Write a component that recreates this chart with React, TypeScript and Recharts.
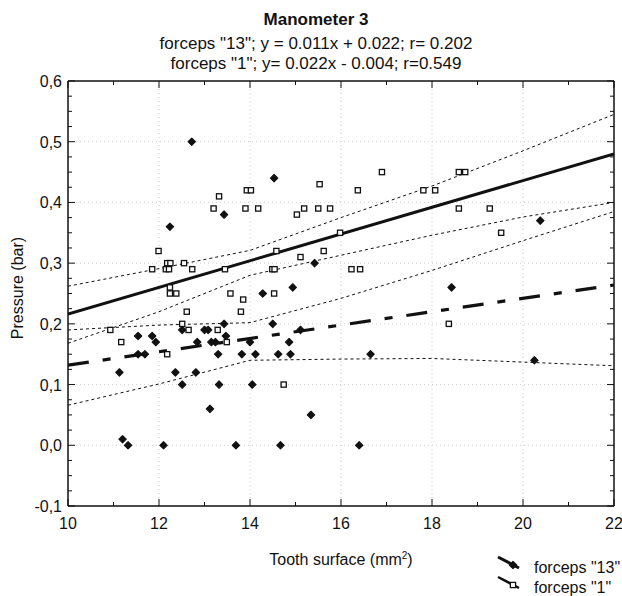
import {ScatterChart, Scatter, XAxis, YAxis, ReferenceLine} from 'recharts';

const FONT = '"Liberation Sans", Arial, sans-serif';
const INK = '#111';

// forceps "13" (filled markers)
const f13X = [12.72, 13.43, 12.24, 14.53, 15.42, 14.94, 20.38, 18.43, 13.43, 12.51, 13.0, 13.08, 11.54, 11.85, 13.47, 11.93, 12.84, 13.15, 13.24, 11.54, 11.69, 13.3, 13.82, 14.12, 11.13, 12.36, 12.81, 12.51, 13.32, 14.05, 13.12, 11.2, 11.32, 12.1, 13.69, 14.28, 14.5, 15.11, 14.0, 14.86, 14.62, 14.89, 16.65, 15.34, 14.67, 16.4, 20.25];
const f13Y = [0.5, 0.38, 0.36, 0.44, 0.3, 0.26, 0.37, 0.26, 0.2, 0.19, 0.19, 0.19, 0.18, 0.18, 0.18, 0.17, 0.17, 0.17, 0.17, 0.15, 0.15, 0.15, 0.15, 0.15, 0.12, 0.12, 0.12, 0.1, 0.1, 0.1, 0.06, 0.01, 0.0, 0.0, 0.0, 0.25, 0.2, 0.19, 0.17, 0.17, 0.15, 0.15, 0.15, 0.05, 0.0, 0.0, 0.14];

// forceps "1" (open squares)
const f1X = [13.93, 14.02, 13.32, 13.2, 13.9, 14.18, 11.99, 12.18, 12.25, 12.55, 11.85, 12.15, 12.22, 12.73, 13.45, 12.24, 12.24, 12.38, 13.57, 13.85, 12.61, 13.8, 12.51, 10.93, 12.65, 13.29, 11.17, 13.49, 12.18, 15.53, 16.9, 16.37, 17.81, 18.07, 15.03, 15.19, 15.5, 15.76, 15.98, 14.58, 15.11, 15.62, 14.49, 14.54, 16.23, 16.42, 18.59, 18.73, 18.59, 19.27, 19.52, 14.53, 14.74, 18.37];
const f1Y = [0.42, 0.42, 0.41, 0.39, 0.39, 0.39, 0.32, 0.3, 0.3, 0.3, 0.29, 0.29, 0.29, 0.29, 0.29, 0.26, 0.25, 0.25, 0.25, 0.24, 0.22, 0.22, 0.2, 0.19, 0.19, 0.19, 0.17, 0.17, 0.15, 0.43, 0.45, 0.42, 0.42, 0.42, 0.38, 0.39, 0.39, 0.39, 0.35, 0.32, 0.31, 0.32, 0.29, 0.29, 0.29, 0.29, 0.45, 0.45, 0.39, 0.39, 0.35, 0.25, 0.1, 0.2];

// regression lines
const fitX = [10, 22];
const fit13Y = [0.132, 0.264];
const fit1Y = [0.216, 0.48];

// confidence bands
const bandX = [10, 12, 14, 16, 18, 20, 22];
const band1Upper = [0.262, 0.291, 0.321, 0.375, 0.427, 0.485, 0.545];
const band1Lower = [0.168, 0.22, 0.28, 0.313, 0.346, 0.376, 0.4];
const band13Upper = [0.19, 0.198, 0.202, 0.242, 0.288, 0.337, 0.385];
const band13Lower = [0.066, 0.101, 0.14, 0.142, 0.143, 0.137, 0.131];

const xTicks = [10, 11, 12, 13, 14, 15, 16, 17, 18, 19, 20, 21, 22];
const yTicks = [-0.1, -0.075, -0.05, -0.025, 0, 0.025, 0.05, 0.075, 0.1, 0.125, 0.15, 0.175, 0.2, 0.225, 0.25, 0.275, 0.3, 0.325, 0.35, 0.375, 0.4, 0.425, 0.45, 0.475, 0.5, 0.525, 0.55, 0.575, 0.6];
const gridX = [12, 14, 16, 18, 20];
const gridY = [0, 0.1, 0.2, 0.3, 0.4, 0.5];

const pts = (xs: number[], ys: number[]) => xs.map((x, i) => ({x, y: ys[i]}));

const isMajorY = (v: number) => Math.abs(v * 10 - Math.round(v * 10)) < 1e-6;
const isMajorX = (v: number) => v % 2 === 0;

const BottomTick = ({x, y, payload}: any) => {
  const major = isMajorX(payload.value);
  return (
    <g>
      <line x1={x} x2={x} y1={y} y2={y - (major ? 7 : 4)} stroke={INK} />
      {major && (
        <text x={x} y={y + 23} textAnchor="middle" fontSize={16} fontFamily={FONT} fill={INK}>
          {payload.value}
        </text>
      )}
    </g>
  );
};

const TopTick = ({x, y, payload}: any) => {
  const major = isMajorX(payload.value);
  return <line x1={x} x2={x} y1={y} y2={y + (major ? 7 : 4)} stroke={INK} />;
};

const LeftTick = ({x, y, payload}: any) => {
  const major = isMajorY(payload.value);
  return (
    <g>
      <line x1={x} x2={x + (major ? 7 : 4)} y1={y} y2={y} stroke={INK} />
      {major && (
        <text x={x - 6} y={y + 6} textAnchor="end" fontSize={16} fontFamily={FONT} fill={INK}>
          {payload.value.toFixed(1).replace('.', ',')}
        </text>
      )}
    </g>
  );
};

const RightTick = ({x, y, payload}: any) => {
  const major = isMajorY(payload.value);
  return <line x1={x} x2={x - (major ? 7 : 4)} y1={y} y2={y} stroke={INK} />;
};

const Dot = ({cx, cy}: any) => (
  <polygon
    points={`${cx},${cy - 3.7} ${cx + 3.7},${cy} ${cx},${cy + 3.7} ${cx - 3.7},${cy}`}
    fill={INK}
    stroke={INK}
    strokeWidth={1.1}
    strokeLinejoin="round"
  />
);

const Box = ({cx, cy}: any) => (
  <rect x={cx - 2.6} y={cy - 2.6} width={5.2} height={5.2} fill="#fff" stroke={INK} strokeWidth={1.3} />
);

const NoDot = () => <g />;

const axisLine = {stroke: INK, strokeWidth: 1.5};
const bandLine = {stroke: INK, strokeWidth: 1, strokeDasharray: '3 3'};

export default function App() {
  return (
    <div
      style={{
        position: 'absolute',
        left: 0,
        top: 0,
        width: 622,
        height: 596,
        background: '#fff',
        fontFamily: FONT,
        color: INK,
      }}>
      <div style={{position: 'absolute', left: 16, width: 600, top: 10, textAlign: 'center', fontSize: 17, fontWeight: 'bold', lineHeight: '20px'}}>
        Manometer 3
      </div>
      <div style={{position: 'absolute', left: 16, width: 600, top: 34, textAlign: 'center', fontSize: 17, lineHeight: '20px'}}>
        forceps "13"; y = 0.011x + 0.022; r= 0.202
      </div>
      <div style={{position: 'absolute', left: 16, width: 600, top: 54, textAlign: 'center', fontSize: 17, lineHeight: '20px'}}>
        forceps "1"; y= 0.022x - 0.004; r=0.549
      </div>

      <ScatterChart width={622} height={596} margin={{top: 0, right: 0, bottom: 0, left: 0}}>
        <XAxis
          type="number"
          dataKey="x"
          domain={[10, 22]}
          ticks={xTicks}
          interval={0}
          height={90}
          tickSize={0}
          tickMargin={0}
          tickLine={false}
          axisLine={axisLine}
          tick={<BottomTick />}
          allowDataOverflow
        />
        <XAxis
          xAxisId="top"
          orientation="top"
          type="number"
          dataKey="x"
          domain={[10, 22]}
          ticks={xTicks}
          interval={0}
          height={81}
          tickSize={0}
          tickMargin={0}
          tickLine={false}
          axisLine={axisLine}
          tick={<TopTick />}
          allowDataOverflow
        />
        <YAxis
          type="number"
          dataKey="y"
          domain={[-0.1, 0.6]}
          ticks={yTicks}
          interval={0}
          width={68}
          tickSize={0}
          tickMargin={0}
          tickLine={false}
          axisLine={axisLine}
          tick={<LeftTick />}
          allowDataOverflow
        />
        <YAxis
          yAxisId="right"
          orientation="right"
          type="number"
          dataKey="y"
          domain={[-0.1, 0.6]}
          ticks={yTicks}
          interval={0}
          width={8}
          tickSize={0}
          tickMargin={0}
          tickLine={false}
          axisLine={axisLine}
          tick={<RightTick />}
          allowDataOverflow
        />

        {gridX.map((v) => (
          <ReferenceLine key={`gx${v}`} x={v} stroke="#cfcfcf" strokeDasharray="1 3" />
        ))}
        {gridY.map((v) => (
          <ReferenceLine key={`gy${v}`} y={v} stroke="#cfcfcf" strokeDasharray="1 3" />
        ))}

        <Scatter data={pts(bandX, band1Upper)} line={bandLine} lineType="joint" shape={NoDot} isAnimationActive={false} />
        <Scatter data={pts(bandX, band1Lower)} line={bandLine} lineType="joint" shape={NoDot} isAnimationActive={false} />
        <Scatter data={pts(bandX, band13Upper)} line={bandLine} lineType="joint" shape={NoDot} isAnimationActive={false} />
        <Scatter
          xAxisId="top"
          yAxisId="right"
          data={pts(bandX, band13Lower)}
          line={bandLine}
          lineType="joint"
          shape={NoDot}
          isAnimationActive={false}
        />

        <Scatter
          data={pts(fitX, fit13Y)}
          line={{stroke: INK, strokeWidth: 3.2, strokeDasharray: '21 14 8 14'}}
          lineType="joint"
          shape={NoDot}
          isAnimationActive={false}
        />
        <Scatter
          data={pts(fitX, fit1Y)}
          line={{stroke: INK, strokeWidth: 3}}
          lineType="joint"
          shape={NoDot}
          isAnimationActive={false}
        />

        <Scatter name='forceps "13"' data={pts(f13X, f13Y)} shape={Dot} isAnimationActive={false} />
        <Scatter name='forceps "1"' data={pts(f1X, f1Y)} shape={Box} isAnimationActive={false} />
      </ScatterChart>

      <div style={{position: 'absolute', left: 0, top: 547, width: 622, textAlign: 'center', paddingLeft: 60, boxSizing: 'border-box', fontSize: 16, lineHeight: '18px'}}>
        Tooth surface (mm<sup style={{fontSize: 10}}>2</sup>)
      </div>
      <div
        style={{
          position: 'absolute',
          left: 18,
          top: 288,
          fontSize: 16,
          lineHeight: '18px',
          whiteSpace: 'nowrap',
          transform: 'translate(-50%, -50%) rotate(-90deg)',
        }}>
        Pressure (bar)
      </div>

      <svg style={{position: 'absolute', left: 490, top: 550}} width={132} height={46}>
        <line x1={8} y1={7} x2={29} y2={18} stroke={INK} strokeWidth={3} />
        <Dot cx={23} cy={15} />
        <text x={44} y={23} fontSize={16} fontFamily={FONT} fill={INK}>
          forceps "13"
        </text>
        <line x1={8} y1={27} x2={29} y2={38} stroke={INK} strokeWidth={2.5} />
        <Box cx={23} cy={35} />
        <text x={44} y={43} fontSize={16} fontFamily={FONT} fill={INK}>
          forceps "1"
        </text>
      </svg>
    </div>
  );
}
